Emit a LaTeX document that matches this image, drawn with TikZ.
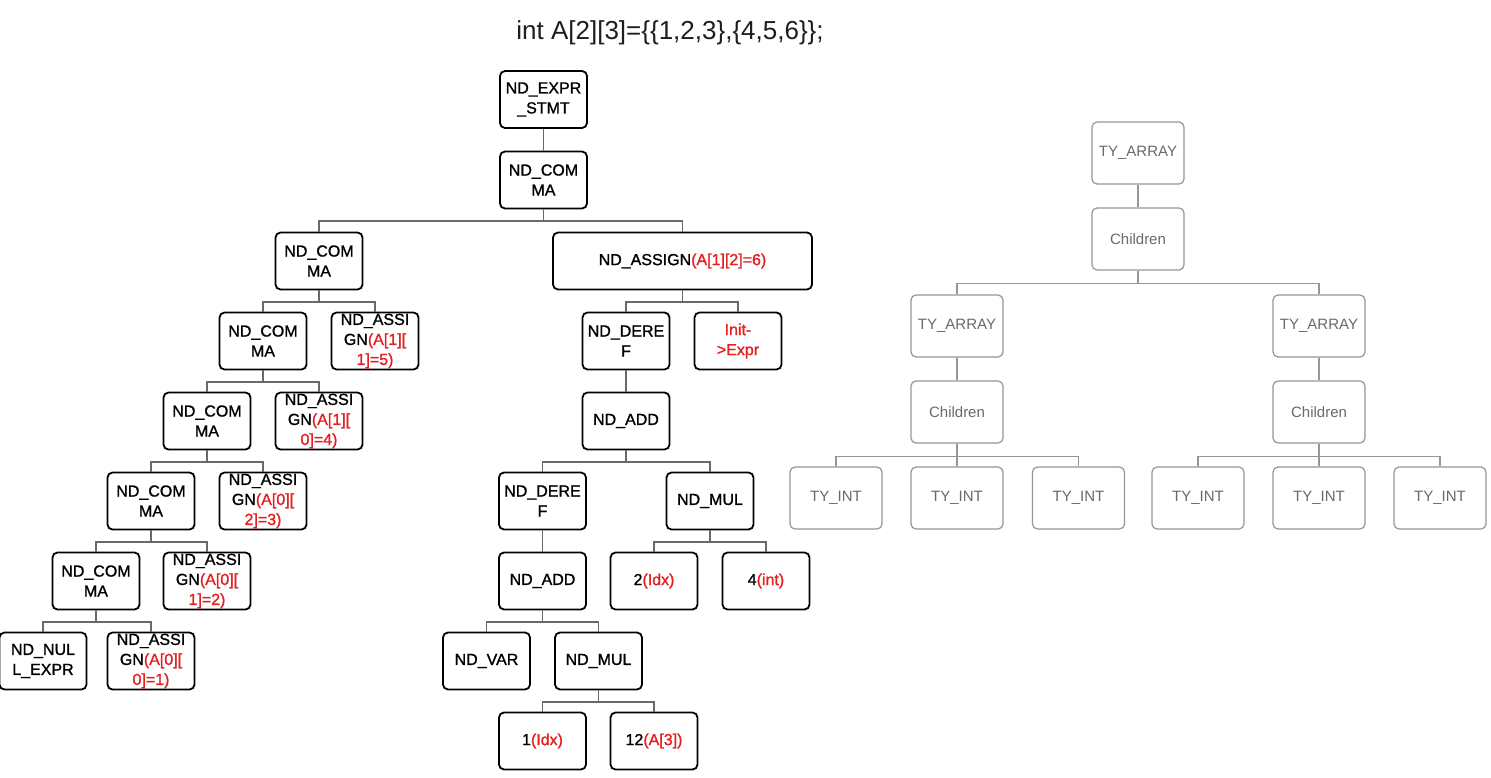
\documentclass[tikz,border=0pt]{standalone}
\usepackage{fontspec}
\setmainfont{Liberation Sans}
\newfontfamily\ndfont[FakeBold=1.2]{Liberation Sans}
\definecolor{redtxt}{RGB}{228,32,32}
\definecolor{edgegray}{RGB}{105,105,105}
\definecolor{tyline}{RGB}{150,150,150}
\definecolor{tytext}{RGB}{105,105,110}
\definecolor{titlec}{RGB}{30,30,30}
\newcommand{\rd}[1]{\textcolor{redtxt}{#1}}
\begin{document}
\begin{tikzpicture}[x=1pt,y=-1pt,
  nd/.style={draw=black, line width=1.8pt, rounded corners=5pt, minimum width=87pt, minimum height=57pt,
    inner sep=0pt, align=center, font=\ndfont\fontsize{16}{20}\selectfont, text=black},
  ty/.style={draw=tyline, line width=1.2pt, rounded corners=5pt, minimum width=92pt, minimum height=62pt,
    inner sep=0pt, align=center, font=\fontsize{15}{18}\selectfont, text=tytext},
  ed/.style={draw=edgegray, line width=1.5pt},
  ted/.style={draw=tyline, line width=1.2pt}]
\useasboundingbox (0,0) rectangle (1491,778);
\fill[white] (0,0) rectangle (1491,778);

\node[font=\fontsize{26}{30}\selectfont, text=titlec] (title) at (670,33) {int A[2][3]=\{\{1,2,3\},\{4,5,6\}\};};

% left tree
\node[nd] (es) at (543.5,99.5) {ND\_EXPR\\\_STMT};
\node[nd] (c0) at (543.5,180) {ND\_COM\\MA};
\node[nd] (c1) at (319,261) {ND\_COM\\MA};
\node[nd, minimum width=259pt] (a6) at (682.5,261) {ND\_ASSIGN\rd{(A[1][2]=6)}};
\node[nd] (c2) at (263,341) {ND\_COM\\MA};
\node[nd] (a5) at (375,341) {ND\_ASSI\\GN\rd{(A[1][}\\\rd{1]=5)}};
\node[nd] (c3) at (207,421) {ND\_COM\\MA};
\node[nd] (a4) at (319,421) {ND\_ASSI\\GN\rd{(A[1][}\\\rd{0]=4)}};
\node[nd] (c4) at (151,501) {ND\_COM\\MA};
\node[nd] (a3) at (263,501) {ND\_ASSI\\GN\rd{(A[0][}\\\rd{2]=3)}};
\node[nd] (c5) at (96,581) {ND\_COM\\MA};
\node[nd] (a2) at (207,581) {ND\_ASSI\\GN\rd{(A[0][}\\\rd{1]=2)}};
\node[nd] (nul) at (43,661) {ND\_NUL\\L\_EXPR};
\node[nd] (a1) at (151,661) {ND\_ASSI\\GN\rd{(A[0][}\\\rd{0]=1)}};

\node[nd] (dr) at (626,341) {ND\_DERE\\F};
\node[nd] (ie) at (738,341) {\rd{Init-}\\\rd{>Expr}};
\node[nd] (ad) at (626,421) {ND\_ADD};
\node[nd] (dr2) at (542.5,501) {ND\_DERE\\F};
\node[nd] (mu) at (710,501) {ND\_MUL};
\node[nd] (ad2) at (542.5,581) {ND\_ADD};
\node[nd] (ix2) at (654,581) {2\rd{(Idx)}};
\node[nd] (in4) at (766,581) {4\rd{(int)}};
\node[nd] (va) at (486.5,661) {ND\_VAR};
\node[nd] (mu2) at (598.5,661) {ND\_MUL};
\node[nd] (ix1) at (542.5,741) {1\rd{(Idx)}};
\node[nd] (a3b) at (654,741) {12\rd{(A[3])}};

% left tree connectors
\draw[ed] (es) -- (c0);
\foreach \p/\c in {c0/c1,c0/a6,c1/c2,c1/a5,c2/c3,c2/a4,c3/c4,c3/a3,c4/c5,c4/a2,c5/nul,c5/a1,
                   a6/dr,a6/ie,ad/dr2,ad/mu,mu/ix2,mu/in4,ad2/va,ad2/mu2,mu2/ix1,mu2/a3b}
  \draw[ed] (\p.south) -- ++(0,11.5) -| (\c.north);
\draw[ed] (dr) -- (ad);
\draw[ed] (dr2) -- (ad2);

% right tree
\node[ty] (ta) at (1138,153) {TY\_ARRAY};
\node[ty] (ch) at (1138,239) {Children};
\node[ty] (taL) at (957,326) {TY\_ARRAY};
\node[ty] (taR) at (1319,326) {TY\_ARRAY};
\node[ty] (chL) at (957,412) {Children};
\node[ty] (chR) at (1319,412) {Children};
\node[ty] (i1) at (836,498) {TY\_INT};
\node[ty] (i2) at (957,498) {TY\_INT};
\node[ty] (i3) at (1078.5,498) {TY\_INT};
\node[ty] (i4) at (1198,498) {TY\_INT};
\node[ty] (i5) at (1319,498) {TY\_INT};
\node[ty] (i6) at (1440,498) {TY\_INT};

\draw[ted] (ta) -- (ch);
\draw[ted] (taL) -- (chL);
\draw[ted] (taR) -- (chR);
\foreach \p/\c in {ch/taL,ch/taR,chL/i1,chL/i2,chL/i3,chR/i4,chR/i5,chR/i6}
  \draw[ted] (\p.south) -- ++(0,12.5) -| (\c.north);
\end{tikzpicture}
\end{document}
